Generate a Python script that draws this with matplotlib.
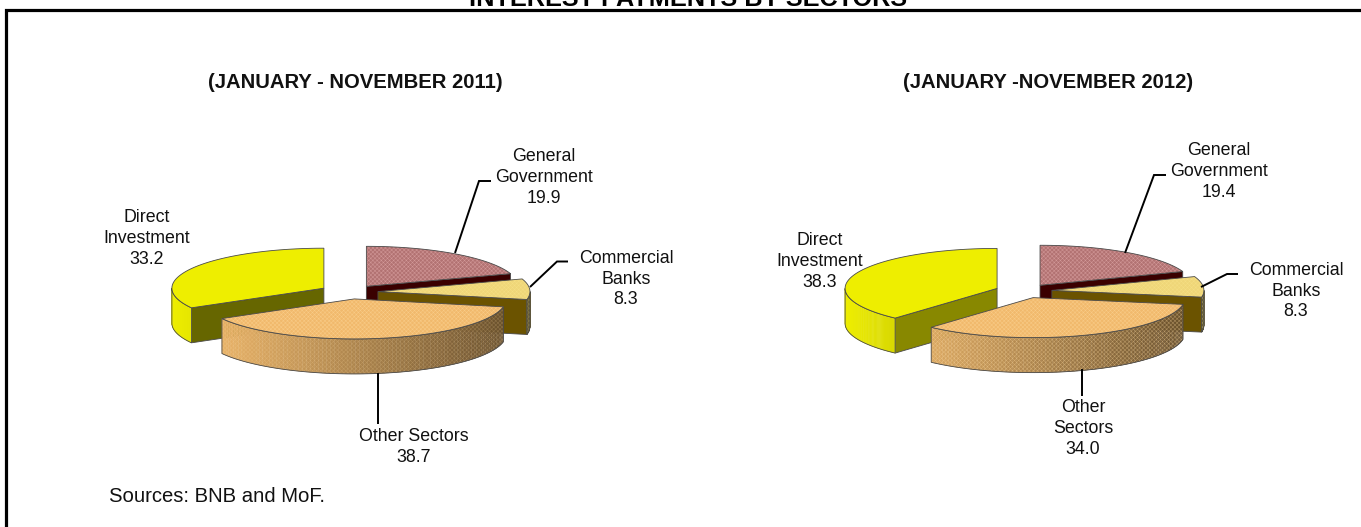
import numpy as np
import matplotlib
matplotlib.use("Agg")
import matplotlib.pyplot as plt
from matplotlib.patches import Polygon

# ---- data ----
title = "INTEREST PAYMENTS BY SECTORS"
period_2011 = "(JANUARY - NOVEMBER 2011)"
period_2012 = "(JANUARY -NOVEMBER 2012)"
source_note = "Sources: BNB and MoF."
sectors = ["General Government", "Commercial Banks", "Other Sectors", "Direct Investment"]
values_2011 = [19.9, 8.3, 38.7, 33.2]
values_2012 = [19.4, 8.3, 34.0, 38.3]
label_lines_2011 = ["General\nGovernment", "Commercial\nBanks", "Other Sectors", "Direct\nInvestment"]
label_lines_2012 = ["General\nGovernment", "Commercial\nBanks", "Other\nSectors", "Direct\nInvestment"]

# ---- style / layout ----
W, H = 1361, 527
plt.rcParams["font.family"] = ["Liberation Sans", "DejaVu Sans"]
plt.rcParams["hatch.linewidth"] = 0.35
FS = 12.8
TOP = {"General Government": "#B27272", "Commercial Banks": "#EFD678",
       "Other Sectors": "#F1B96C", "Direct Investment": "#EEEE00"}
HATCH = {"General Government": (0.93, 0.72, 0.72, 0.55), "Other Sectors": (1.0, 0.86, 0.62, 0.55),
         "Commercial Banks": (1.0, 0.93, 0.6, 0.35)}
CUT = {"General Government": "#3A0000", "Commercial Banks": "#6B5300",
       "Other Sectors": "#6B5538"}
EDGE = "#4a4a4a"
RX, RY, DEPTH = 152, 40, 35
EX, EY = 28, 7

fig = plt.figure(figsize=(W / 100, H / 100), dpi=100)
ax = fig.add_axes([0, 0, 1, 1])
ax.set_xlim(0, W)
ax.set_ylim(H, 0)
ax.axis("off")


def xy(ax0, ay0, deg):
    t = np.radians(deg)
    return ax0 + RX * np.sin(t), ay0 - RY * np.cos(t)


def draw_pie(cx, cy, values, explode, direct_cut, wall_alpha):
    order = [0, 3, 1, 2]
    edges = np.concatenate([[0], np.cumsum(values)]) / np.sum(values) * 360
    for i in order:
        name = sectors[i]
        a0, a1 = edges[i], edges[i + 1]
        mid = np.radians((a0 + a1) / 2)
        ox = cx + EX * explode[i] * np.sin(mid)
        oy = cy - EY * explode[i] * np.cos(mid)
        ang = np.linspace(a0, a1, 80)
        px, py = xy(ox, oy, ang)
        cut = direct_cut if name == "Direct Investment" else CUT[name]
        # visible radial faces
        for a, vis in ((a1, 0 < a1 < 180), (a0, 180 < a0 < 360)):
            if vis:
                ex_, ey_ = xy(ox, oy, a)
                ax.add_patch(Polygon([(ox, oy), (ex_, ey_), (ex_, ey_ + DEPTH), (ox, oy + DEPTH)],
                                     closed=True, fc=cut, ec=EDGE, lw=0.6))
        # outer wall, shaded from left to right
        lo, hi = max(a0, 90), min(a1, 270)
        if hi > lo:
            wall = np.linspace(lo, hi, 90)
            wx, wy = xy(ox, oy, wall)
            base = np.array(matplotlib.colors.to_rgb(TOP[name]))
            for j in range(len(wall) - 1):
                s = (np.sin(np.radians(wall[j])) + 1) / 2
                col = base * (1 - 0.56 * s)
                ax.add_patch(Polygon([(wx[j], wy[j]), (wx[j + 1], wy[j + 1]),
                                      (wx[j + 1], wy[j + 1] + DEPTH), (wx[j], wy[j] + DEPTH)],
                                     closed=True, fc=col, ec=col, lw=0.3))
            outline = list(zip(wx, wy)) + list(zip(wx[::-1], wy[::-1] + DEPTH))
            if name in HATCH:
                ax.add_patch(Polygon(outline, closed=True, fill=False, lw=0,
                                     ec=HATCH[name][:3] + (wall_alpha,), hatch="xxxxxxxx"))
            ax.add_patch(Polygon(outline, closed=True, fill=False, ec=EDGE, lw=0.6))
        # top
        top = [(ox, oy)] + list(zip(px, py))
        ax.add_patch(Polygon(top, closed=True, fc=TOP[name], ec="none", lw=0))
        if name in HATCH:
            ax.add_patch(Polygon(top, closed=True, fill=False, lw=0,
                                 ec=HATCH[name], hatch="xxxxxxxx"))
        ax.add_patch(Polygon(top, closed=True, fill=False, ec=EDGE, lw=0.6))


def label(x, y, head, value):
    ax.text(x, y, f"{head}\n{value:.1f}", ha="center", va="center", fontsize=FS,
            linespacing=1.3, color="#111111")


def leader(xs, ys):
    ax.plot(xs, ys, color="black", lw=1.4, solid_capstyle="butt", solid_joinstyle="miter", clip_on=False)


# frame
ax.plot([6.5, 6.5, W], [H, 9.5, 9.5], color="black", lw=2.3, solid_joinstyle="miter", clip_on=False)
ax.text(688, 5.5, title, ha="center", va="baseline", fontsize=18.2, fontweight="bold", color="black")
ax.text(355, 82, period_2011, ha="center", va="center", fontsize=14.6, fontweight="bold", color="#111111")
ax.text(1048, 82, period_2012, ha="center", va="center", fontsize=14.6, fontweight="bold", color="#111111")
ax.text(109, 497, source_note, ha="left", va="center", fontsize=14.6, color="#111111")

draw_pie(350, 292, values_2011, [1, 1, 1, 1.08], "#666600", 0.25)
draw_pie(1024, 291, values_2012, [1, 1, 1, 1.03], "#888800", 0.45)

leader([455, 479, 491], [253, 181, 181])
leader([530, 557, 568], [287, 261.5, 261.5])
leader([378, 378], [373, 424])
leader([1125, 1154, 1166], [253, 175, 175])
leader([1201, 1227, 1238], [287, 274, 274])
leader([1082, 1082], [369, 396])

pos_2011 = [(544, 177.5), (626, 279), (414, 447), (147, 238.5)]
pos_2012 = [(1219, 171.5), (1296, 291), (1083, 428.5), (820, 261.5)]
for (x, y), h, v in zip(pos_2011, label_lines_2011, values_2011):
    label(x, y, h, v)
for (x, y), h, v in zip(pos_2012, label_lines_2012, values_2012):
    label(x, y, h, v)

fig.savefig("out.png", dpi=100)
